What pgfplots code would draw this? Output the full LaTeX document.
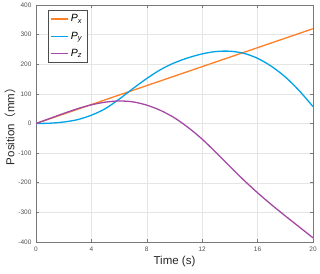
\documentclass[border=0pt]{standalone}
\usepackage{pgfplots}
\pgfplotsset{compat=1.18}
\usepackage{fontspec}
\setmainfont{Liberation Sans}
\newfontfamily\cjk{Noto Sans CJK SC}
\definecolor{cx}{RGB}{255,127,39}
\definecolor{cy}{RGB}{0,162,232}
\definecolor{cz}{RGB}{163,73,164}
\definecolor{axgray}{RGB}{120,120,120}
\definecolor{tkgray}{RGB}{80,80,80}
\begin{document}
\begin{tikzpicture}[x=1pt,y=1pt]
\useasboundingbox (-36,-31) rectangle (284,242);
\begin{axis}[
  at={(0,0)}, anchor=south west,
  width=277pt, height=237pt, scale only axis,
  xmin=0, xmax=20, ymin=-400, ymax=400,
  xtick={0,4,...,20}, ytick={-400,-300,...,400},
  /pgf/number format/assume math mode=true,
  tick label style={font=\fontsize{6.5}{7}\selectfont, color=tkgray},
  xticklabel style={yshift=-1pt},
  yticklabel style={xshift=-1pt},
  tick align=inside, major tick length=3pt,
  tick style={axgray, line width=0.6pt},
  axis line style={axgray, line width=0.8pt},
  grid=major, grid style={gray!20, line width=0.5pt},
  xlabel={Time (s)}, ylabel={Position{\cjk （}mm{\cjk ）}},
  label style={font=\fontsize{11.5}{13}\selectfont, color=black!85},
  xlabel style={at={(axis description cs:0.5,-0.084)}, anchor=center},
  ylabel style={at={(axis description cs:-0.094,0.5)}, anchor=center},
  legend style={at={(0.043,0.979)}, anchor=north west, draw=black!70, fill=white,
    font=\fontsize{10.5}{12}\selectfont, row sep=4.5pt, inner sep=2.5pt},
  legend cell align=left,
]
\addplot[cx, line width=1.3pt] coordinates {(0,0) (20,320)};
\addlegendentry{\textit{P}\textsubscript{\textit{x}}}
\addplot[cy, line width=1.3pt, smooth] coordinates {
(0,0) (1,1) (2,5) (3,13) (4,28) (5,50) (6,82) (7,118) (8,152) (9,182) (10,205)
(11,222) (12,235) (13,243) (14,244) (15,237) (16,220) (17,193) (18,157) (19,111) (20,57)};
\addlegendentry{\textit{P}\textsubscript{\textit{y}}}
\addplot[cz, line width=1.3pt, smooth] coordinates {
(0,0) (1,17) (2,34) (3,50) (4,63) (5,72) (6,76) (7,73) (8,62) (9,44) (10,19)
(11,-14) (12,-53) (13,-98) (14,-145) (15,-191) (16,-234) (17,-274) (18,-312) (19,-349) (20,-386)};
\addlegendentry{\textit{P}\textsubscript{\textit{z}}}
\end{axis}
\end{tikzpicture}
\end{document}
